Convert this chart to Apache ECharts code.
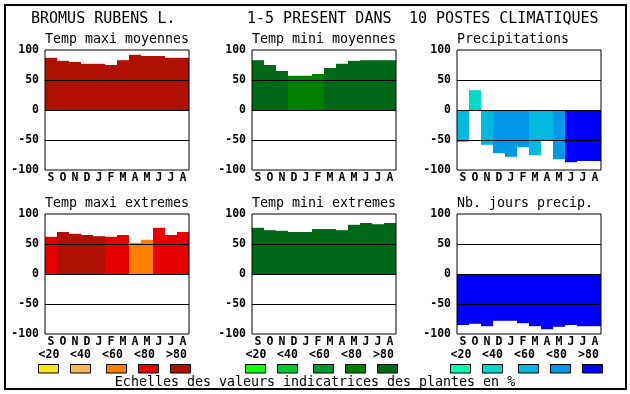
<!DOCTYPE html>
<html><head><meta charset="utf-8">
<script src="https://cdn.jsdelivr.net/npm/echarts@6/dist/echarts.min.js"></script>
<style>html,body{margin:0;padding:0;background:#fff}#c{width:630px;height:394px}</style>
</head><body><div id="c"></div>
<script>
const months = ['S','O','N','D','J','F','M','A','M','J','J','A'];
const yMin = -100, yMax = 100, yStep = 50;
const refLines = [50, 0, -50];
const legendLabels = ['<20','<40','<60','<80','>80'];
const titleParts = ['BROMUS RUBENS L.','1-5 PRESENT DANS','10 POSTES CLIMATIQUES'];
const footer = 'Echelles des valeurs indicatrices des plantes en %';
const panelTitles = ['Temp maxi moyennes','Temp mini moyennes','Precipitations','Temp maxi extremes','Temp mini extremes','Nb. jours precip.'];

const tmaxMoy    = [87,82,80,77,77,75,83,92,90,90,87,87];
const tmaxMoyCls = [5,5,5,5,5,5,5,5,5,5,5,5];
const tminMoy    = [83,75,65,57,57,60,70,77,82,83,83,83];
const tminMoyCls = [5,5,5,4,4,4,5,5,5,5,5,5];
const precip     = [-53,33,-58,-72,-78,-62,-75,-50,-82,-87,-85,-85];
const precipCls  = [3,2,3,4,4,4,3,3,4,5,5,5];
const tmaxExt    = [62,70,67,65,63,62,65,52,57,77,65,70];
const tmaxExtCls = [4,5,5,5,5,4,4,3,3,4,4,4];
const tminExt    = [77,73,72,70,70,75,75,73,82,85,83,85];
const tminExtCls = [5,5,5,5,5,5,5,5,5,5,5,5];
const nbJours    = [-85,-83,-87,-78,-78,-82,-87,-92,-88,-85,-87,-87];
const nbJoursCls = [5,5,5,5,5,5,5,5,5,5,5,5];

const redPal   = ['#F8E818','#FFB850','#FF8000','#E80000','#B01000'];
const greenPal = ['#10FF10','#00C830','#009830','#008000','#006818'];
const bluePal  = ['#00FFB0','#00D8C8','#00B8E0','#0098E8','#0000FF'];

const MONO = '"DejaVu Sans Mono", "Liberation Mono", monospace';
const panelLefts = [45, 252, 457];
const rowTops = [50, 214];
const PW = 144, PH = 120;

const panels = [
  {vals: tmaxMoy, cls: tmaxMoyCls, pal: redPal},
  {vals: tminMoy, cls: tminMoyCls, pal: greenPal},
  {vals: precip,  cls: precipCls,  pal: bluePal},
  {vals: tmaxExt, cls: tmaxExtCls, pal: redPal},
  {vals: tminExt, cls: tminExtCls, pal: greenPal},
  {vals: nbJours, cls: nbJoursCls, pal: bluePal}
];

const grid = [], xAxis = [], yAxis = [], series = [], graphic = [];
panels.forEach((p, i) => {
  const col = i % 3, row = Math.floor(i / 3);
  grid.push({left: panelLefts[col], top: rowTops[row], width: PW, height: PH,
    show: true, borderColor: '#000', borderWidth: 1, backgroundColor: 'rgba(0,0,0,0)', z: 10});
  xAxis.push({type: 'category', gridIndex: i, data: months, boundaryGap: true,
    axisLine: {show: false}, axisTick: {show: false}, splitLine: {show: false},
    axisLabel: {interval: 0, margin: 2, fontFamily: MONO, fontWeight: 'bold', fontSize: 11.5, color: '#000'}});
  yAxis.push({type: 'value', gridIndex: i, min: yMin, max: yMax, interval: yStep,
    axisLine: {show: false}, axisTick: {show: false}, splitLine: {show: false},
    axisLabel: {margin: 6, padding: [3, 0, 0, 0], fontFamily: MONO, fontWeight: 'bold', fontSize: 11.5, color: '#000'}});
  series.push({type: 'bar', xAxisIndex: i, yAxisIndex: i, barCategoryGap: '0%', barGap: '0%',
    data: p.vals.map((v, k) => ({value: v, itemStyle: {color: p.pal[p.cls[k] - 1]}})),
    markLine: {silent: true, symbol: 'none', label: {show: false}, animation: false,
      lineStyle: {color: '#000', width: 1, type: 'solid'},
      data: refLines.map(y => ({yAxis: y}))}});
  graphic.push({type: 'text', z: 20, style: {text: panelTitles[i], x: panelLefts[col], y: rowTops[row] - 10.8,
    font: '13.3px ' + MONO, fill: '#000', verticalAlign: 'middle', textVerticalAlign: 'middle'}});
  if (row === 1) {
    const labOff = [4, 35.5, 67.5, 99.5, 131.5];
    const boxOff = [-6.5, 25.5, 61.5, 93.5, 125.5];
    legendLabels.forEach((t, k) => {
      graphic.push({type: 'text', z: 20, style: {text: t, x: panelLefts[col] + labOff[k], y: 355.5,
        font: 'bold 11.5px ' + MONO, fill: '#000', align: 'center', textAlign: 'center',
        verticalAlign: 'middle', textVerticalAlign: 'middle'}});
      graphic.push({type: 'rect', z: 20, shape: {x: panelLefts[col] + boxOff[k], y: 364.5, width: 20, height: 8.5},
        style: {fill: p.pal[k], stroke: '#000', lineWidth: 1}});
    });
  }
});
const titleX = [31, 247, 409];
titleParts.forEach((t, k) => graphic.push({type: 'text', z: 20, style: {text: t, x: titleX[k], y: 19.2,
  font: '15px ' + MONO, fill: '#000', verticalAlign: 'middle', textVerticalAlign: 'middle'}}));
graphic.push({type: 'text', z: 20, style: {text: footer, x: 315, y: 383, font: '13.3px ' + MONO, fill: '#000',
  align: 'center', textAlign: 'center', verticalAlign: 'middle', textVerticalAlign: 'middle'}});
graphic.push({type: 'rect', z: 30, shape: {x: 5, y: 5, width: 621, height: 384},
  style: {fill: 'none', stroke: '#000', lineWidth: 2}});

const chart = echarts.init(document.getElementById('c'), null, {renderer: 'canvas'});
chart.setOption({animation: false, backgroundColor: '#fff', grid, xAxis, yAxis, series, graphic});
</script></body></html>
